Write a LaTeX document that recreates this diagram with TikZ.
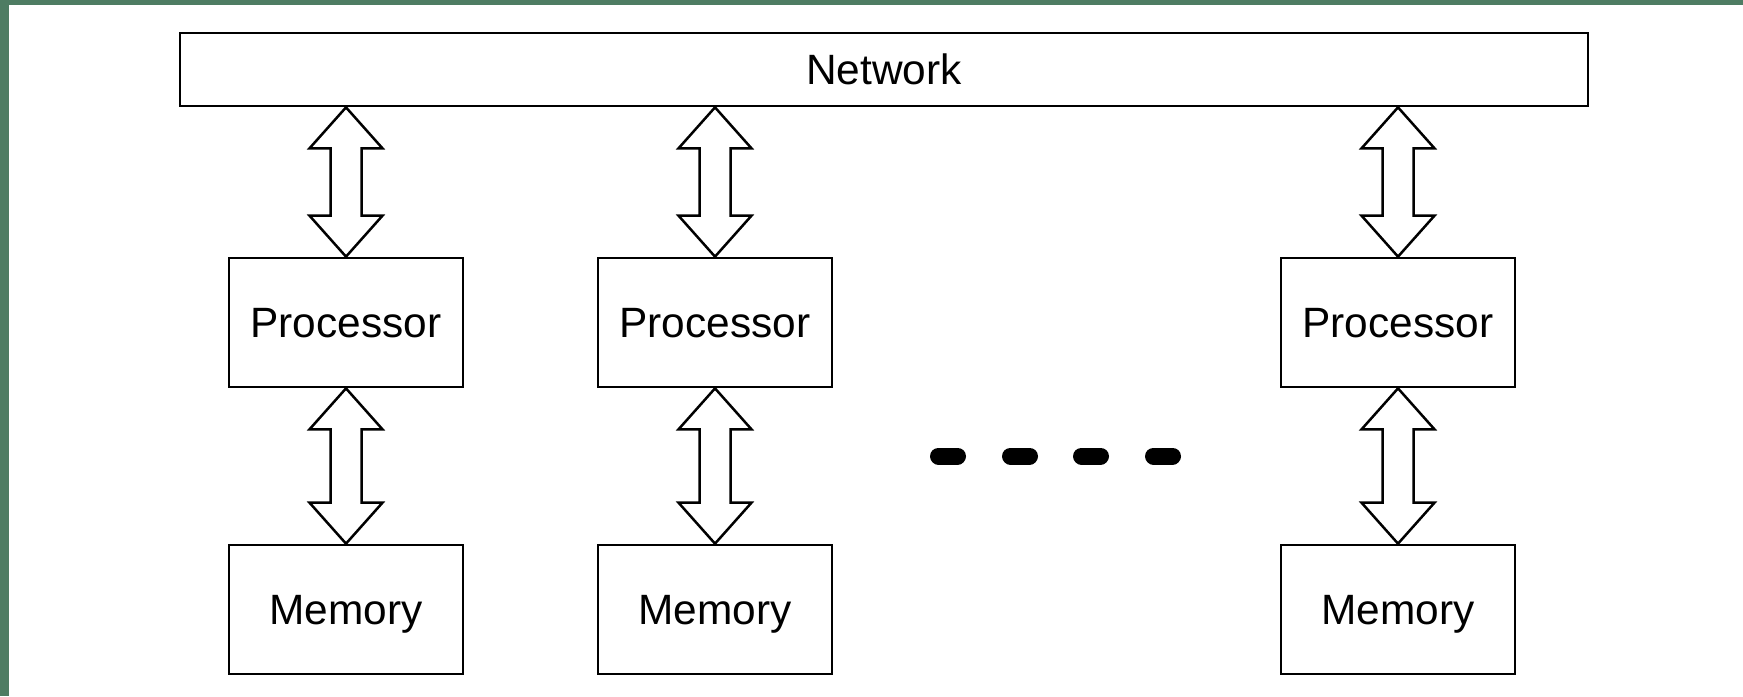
\documentclass[tikz,border=0pt]{standalone}
\usepackage{fontspec}
\setmainfont{Liberation Sans}
\usetikzlibrary{calc}
\definecolor{frame}{RGB}{78,124,99}
\tikzset{
  box/.style={draw, line width=1.35pt, fill=white, font=\fontsize{21.2pt}{25pt}\selectfont, inner sep=0pt, text depth=0pt},
  unitbox/.style={box, minimum width=117pt, minimum height=64.5pt},
  bigarrow/.style={draw, line width=1.25pt, fill=white, line join=miter},
  dots/.style={line width=8.5pt, line cap=round}
}
\newcommand\biarrow[2]{%
  \path[bigarrow] (#1) -- ($(#1)+(36.5,41)$) -- ($(#1)+(15.5,41)$) -- ($(#2)+(15.5,-41)$) -- ($(#2)+(36.5,-41)$) -- (#2)
    -- ($(#2)+(-36.5,-41)$) -- ($(#2)+(-15.5,-41)$) -- ($(#1)+(-15.5,41)$) -- ($(#1)+(-36.5,41)$) -- cycle;}
\begin{document}
\begin{tikzpicture}[x=0.5pt,y=-0.5pt]
\fill[frame] (0,0) rectangle (1743,696);
\fill[white] (9,5) rectangle (1743,696);
\useasboundingbox (0,0) rectangle (1743,696);
\node[box, minimum width=704pt, minimum height=36.5pt] (net) at (884,69.5) {Network};
\node[unitbox] (p1) at (346,322.5) {Processor};
\node[unitbox] (p2) at (715,322.5) {Processor};
\node[unitbox] (p3) at (1398,322.5) {Processor};
\node[unitbox] (m1) at (346,609.5) {Memory};
\node[unitbox] (m2) at (715,609.5) {Memory};
\node[unitbox] (m3) at (1398,609.5) {Memory};
\coordinate (t1) at (p1.north |- net.south);
\coordinate (t2) at (p2.north |- net.south);
\coordinate (t3) at (p3.north |- net.south);
\biarrow{t1}{p1.north}
\biarrow{t2}{p2.north}
\biarrow{t3}{p3.north}
\biarrow{p1.south}{m1.north}
\biarrow{p2.south}{m2.north}
\biarrow{p3.south}{m3.north}
\coordinate (d1a) at (938.5,456); \coordinate (d1b) at (957.5,456);
\coordinate (d2a) at (1010.5,456); \coordinate (d2b) at (1029.5,456);
\coordinate (d3a) at (1081.5,456); \coordinate (d3b) at (1100.5,456);
\coordinate (d4a) at (1153.5,456); \coordinate (d4b) at (1172.5,456);
\draw[dots] (d1a) -- (d1b);
\draw[dots] (d2a) -- (d2b);
\draw[dots] (d3a) -- (d3b);
\draw[dots] (d4a) -- (d4b);
\end{tikzpicture}
\end{document}
